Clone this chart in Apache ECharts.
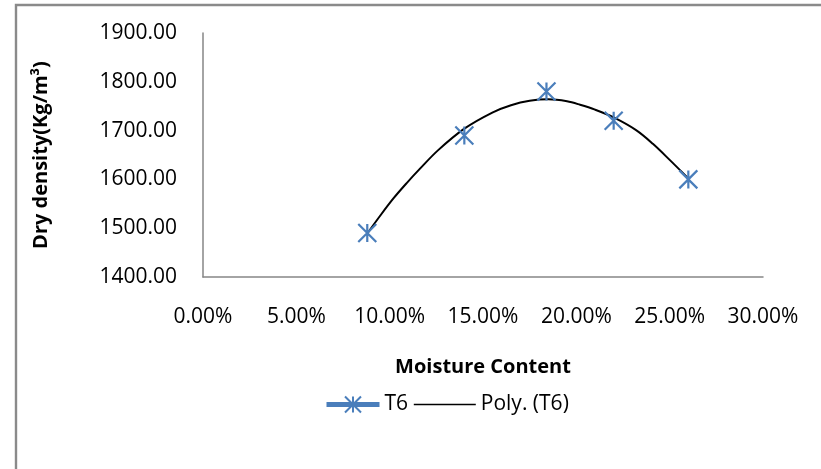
<!DOCTYPE html>
<html>
<head>
<meta charset="utf-8">
<script src="https://cdn.jsdelivr.net/npm/echarts@6/dist/echarts.min.js"></script>
<style>
  html, body { margin: 0; padding: 0; background: #fff; }
  #chart { width: 821px; height: 469px; }
</style>
</head>
<body>
<div id="chart"></div>
<script>
// Compaction test T6: moisture content vs dry density
const moisture = [0.088, 0.140, 0.184, 0.220, 0.260];
const dryDensity = [1490, 1690, 1780, 1720, 1600];

// Second-order polynomial trendline, sampled along its path
const polyMoisture = [0.088, 0.095, 0.102, 0.109, 0.116, 0.126, 0.140, 0.155, 0.165, 0.175, 0.185, 0.195, 0.202, 0.210, 0.220, 0.232, 0.241, 0.250, 0.2605];
const polyDensity  = [1489, 1526, 1561, 1592, 1621, 1660, 1704, 1737, 1752, 1761, 1764, 1760, 1753, 1743, 1727, 1701, 1673, 1640, 1600];

const yTicks = { min: 1400, max: 1900, step: 100 };
const xTicks = { min: 0, max: 0.30, step: 0.05 };

const blue = '#4a7ebb';
const font = '"Open Sans", "Liberation Sans", sans-serif';

const pairs = (xs, ys) => xs.map((x, i) => [x, ys[i]]);

// Six-spoke asterisk marker
const starPath = 'path://M0,-10 L0,10 M-8,-10 L8,10 M8,-10 L-8,10';

const legendText = { fontFamily: font, fontSize: 21, color: '#000' };

const chart = echarts.init(document.getElementById('chart'));
chart.setOption({
  backgroundColor: '#ffffff',
  animation: false,
  textStyle: { fontFamily: font, color: '#000' },
  graphic: [{
    type: 'rect',
    shape: { x: 16, y: 5, width: 900, height: 600 },
    style: { fill: 'none', stroke: '#8a8a8a', lineWidth: 2.4 },
    silent: true
  }],
  grid: { left: 203, top: 33, right: 58, bottom: 192 },
  legend: [
    {
      left: 319,
      top: 389,
      itemWidth: 53,
      itemHeight: 20,
      textStyle: legendText,
      data: [{ name: 'T6', lineStyle: { width: 5, color: blue, opacity: 1 } }]
    },
    {
      left: 408,
      top: 389,
      itemWidth: 62,
      itemHeight: 20,
      textStyle: legendText,
      data: [{
        name: 'Poly. (T6)',
        lineStyle: { width: 1.6, color: '#000' },
        itemStyle: { opacity: 0 }
      }]
    }
  ],
  xAxis: {
    type: 'value',
    min: xTicks.min, max: xTicks.max, interval: xTicks.step,
    name: 'Moisture Content',
    nameLocation: 'middle',
    nameGap: 80,
    nameTextStyle: { fontFamily: font, fontSize: 20, fontWeight: 'bold', color: '#000' },
    axisLine: { show: true, lineStyle: { color: '#868686', width: 1.5 } },
    axisTick: { show: false },
    splitLine: { show: false },
    axisLabel: {
      margin: 30,
      fontFamily: font, fontSize: 21, color: '#000',
      formatter: v => (v * 100).toFixed(2) + '%'
    }
  },
  yAxis: {
    type: 'value',
    min: yTicks.min, max: yTicks.max, interval: yTicks.step,
    name: 'Dry density(Kg/m³)',
    nameLocation: 'middle',
    nameGap: 152,
    nameTextStyle: { fontFamily: font, fontSize: 20, fontWeight: 'bold', color: '#000' },
    axisLine: { show: true, lineStyle: { color: '#868686', width: 1.5 } },
    axisTick: { show: false },
    splitLine: { show: false },
    axisLabel: {
      margin: 26,
      fontFamily: font, fontSize: 21, color: '#000',
      formatter: v => v.toFixed(2)
    }
  },
  series: [
    {
      name: 'Poly. (T6)',
      type: 'line',
      data: pairs(polyMoisture, polyDensity),
      smooth: 0.35,
      showSymbol: false,
      symbol: 'none',
      lineStyle: { color: '#000', width: 2 },
      itemStyle: { color: '#000' },
      z: 2
    },
    {
      name: 'T6',
      type: 'line',
      data: pairs(moisture, dryDensity),
      symbol: starPath,
      symbolSize: 18,
      showAllSymbol: true,
      lineStyle: { width: 0, opacity: 0, color: blue },
      itemStyle: { color: 'none', borderColor: blue, borderWidth: 2.2 },
      z: 3
    }
  ]
});
</script>
</body>
</html>
